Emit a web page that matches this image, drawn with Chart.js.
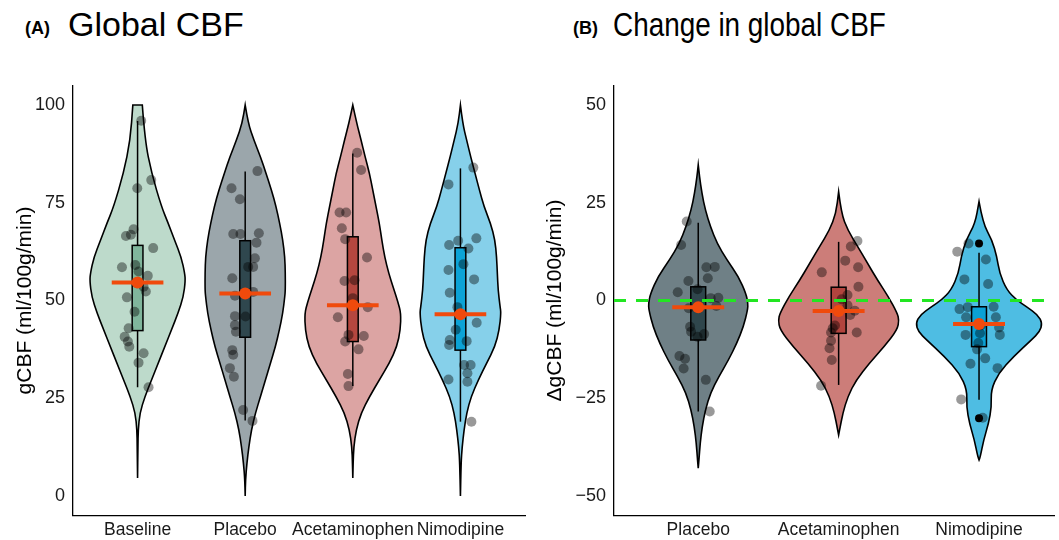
<!DOCTYPE html>
<html>
<head>
<meta charset="utf-8">
<script src="https://cdn.jsdelivr.net/npm/chart.js@4.4.1/dist/chart.umd.min.js"></script>
<style>
body { margin: 0; background: #fff; width: 1059px; height: 540px; overflow: hidden; position: relative; font-family: "Liberation Sans", Arial, sans-serif; }
canvas { position: absolute; top: 0; }
#chartA { left: 0; }
#chartB { left: 530px; }
.tag { position: absolute; font-weight: bold; font-size: 18px; line-height: 1; }
.ttl { position: absolute; font-size: 34px; line-height: 1; white-space: nowrap; }
</style>
</head>
<body>
<div class="tag" style="left:25px;top:19px">(A)</div>
<div class="ttl" style="left:68px;top:7px">Global CBF</div>
<div class="tag" style="left:573px;top:19px">(B)</div>
<div class="ttl" style="left:613px;top:7px;transform:scaleX(0.82);transform-origin:0 0">Change in global CBF</div>
<canvas id="chartA" width="530" height="540"></canvas>
<canvas id="chartB" width="529" height="540"></canvas>
<script>
// 類別與刻度
const catsA = ['Baseline', 'Placebo', 'Acetaminophen', 'Nimodipine'];
const catsB = ['Placebo', 'Acetaminophen', 'Nimodipine'];
const yTicksA = [0, 25, 50, 75, 100];
const yTicksB = [-50, -25, 0, 25, 50];

// 小提琴輪廓 [數值, 半寬(類別單位)]
const violinBaseA = [[100,.044],[91,.068],[82.6,.13],[74,.222],[69.8,.284],[65.5,.343],[61,.407],[57,.438],[55,.444],[51,.426],[46.8,.377],[42.5,.315],[38.2,.253],[34,.192],[29.7,.13],[25.4,.068],[21.2,.021],[16.9,.006],[12.5,.003],[4.6,0]];
const violinPlacA = [[100,0],[95.3,.028],[91,.081],[86.8,.142],[82.5,.194],[78.3,.244],[74,.287],[69.7,.321],[65.5,.349],[61.2,.368],[57,.373],[52.7,.373],[51,.368],[46.7,.349],[42.5,.318],[38.2,.281],[33.9,.234],[29.7,.188],[25.4,.142],[21.2,.095],[16.9,.058],[12.6,.034],[8.4,.016],[4.1,.003],[0,0]];
const violinAcetA = [[100,0],[95.3,.037],[91,.077],[86.8,.114],[82.5,.155],[78.3,.185],[74,.216],[69.7,.247],[65.5,.269],[61.2,.296],[57,.333],[53,.38],[49.5,.42],[46.8,.447],[42.5,.442],[38.2,.41],[34,.34],[29.7,.247],[25.4,.155],[21.2,.077],[16.9,.031],[12.6,.009],[8.4,.003],[4.6,0]];
const violinNimoA = [[100,0],[95.3,.021],[91,.058],[86.8,.095],[82.5,.136],[78.3,.176],[74,.219],[69.7,.281],[65.5,.321],[61.2,.336],[57,.343],[52.7,.35],[48.5,.368],[46.8,.377],[42.5,.361],[38.2,.321],[34,.244],[29.7,.167],[25.4,.099],[21.2,.058],[16.9,.034],[12.6,.016],[8.4,.006],[0,0]];
const violinPlacB = [[34.7,0],[31.7,.009],[27.4,.026],[23.1,.051],[18.9,.087],[14.6,.134],[10.4,.204],[6.1,.287],[1.8,.34],[-0.7,.354],[-2.4,.352],[-6.7,.322],[-10.9,.275],[-15.2,.216],[-19.5,.146],[-23.7,.087],[-28,.051],[-32.3,.028],[-36.5,.014],[-40.8,.005],[-42.9,0]];
const violinAcetB = [[27.8,0],[22.3,.019],[18,.065],[13.8,.136],[9.5,.206],[5.2,.277],[1,.354],[-3.3,.418],[-5,.43],[-7.5,.418],[-11.8,.324],[-16.1,.218],[-20.3,.125],[-24.6,.065],[-28.8,.03],[-33.1,.007],[-34.4,0]];
const violinNimoB = [[25.3,0],[19.7,.028],[15.5,.092],[11.2,.127],[7,.146],[2.7,.197],[0.1,.268],[-1.6,.338],[-3.7,.42],[-5.8,.451],[-8,.432],[-10.1,.373],[-14.4,.244],[-18.6,.139],[-22.9,.085],[-27.2,.089],[-31.4,.068],[-35.7,.033],[-40,.009],[-40.8,0]];

// 個別受試者 [數值, 水平抖動]
const ptsBaseA = [[96,.034],[80.8,.127],[78.7,-.003],[68.2,-.037],[66.5,-.108],[66.8,-.062],[63.4,.145],[58.5,-.145],[59.1,-.021],[57.4,.009],[56.3,.095],[54.4,-.006],[53.5,.056],[52.3,.077],[50.8,-.099],[47.1,-.028],[42.9,-.083],[40.7,-.12],[39.5,-.09],[38.2,-.077],[36.5,.056],[34.1,.009],[27.8,.102]];
const ptsPlacA = [[83.1,.114],[78.7,-.127],[75.9,-.049],[67,-.111],[67,-.044],[67.2,.127],[64.8,.105],[60.8,.09],[58.6,.074],[58.6,.028],[55.7,-.12],[51.2,-.095],[52.2,.074],[46,-.095],[45.9,.003],[43.7,-.095],[42,-.086],[37.3,-.12],[36.1,-.111],[32.7,-.142],[30.5,-.105],[22,-.019],[19.2,.068]];
const ptsAcetA = [[87.8,.04],[83.4,.077],[72.5,-.123],[72.5,-.062],[68.5,-.102],[65.7,-.071],[61,.132],[55,-.077],[55.2,.016],[50.6,0],[48.3,.139],[45.7,-.139],[41.2,-.04],[40.9,.102],[39.5,-.071],[37.5,.053],[31.2,-.046],[28.1,-.04]];
const ptsNimoA = [[84,.12],[79.7,-.111],[65.3,-.021],[65.9,.148],[64.2,-.105],[63.3,.074],[59.3,.028],[57.8,-.111],[55.4,.127],[52,-.099],[48.3,-.028],[44.3,.151],[42.5,-.044],[39.9,-.099],[38.6,-.105],[39.6,.058],[33.5,.034],[33.5,.095],[31.4,.065],[29.2,.065],[29.8,-.111],[19,.102]];
const ptsPlacB = [[20.2,-.082],[14.2,-.122],[8.5,.058],[8.6,.118],[5.7,.068],[5,-.07],[2.1,-.146],[2.9,-.005],[0.6,.089],[0.7,.143],[-1.4,.129],[-2,-.068],[-6.7,-.058],[-8,-.051],[-8.6,.042],[-9.3,-.005],[-14.2,-.134],[-14.9,-.094],[-17.4,-.104],[-20.3,.054],[-28.4,.082]];
const ptsAcetB = [[15.2,.134],[13.8,.087],[10.2,.047],[8.5,.139],[7.2,-.12],[3.5,.141],[1.4,.063],[0.3,.021],[-1.2,.063],[-2.6,.115],[-3.7,.082],[-6.4,-.026],[-7.1,-.042],[-8.2,-.054],[-8.2,.129],[-10.3,-.054],[-12.2,-.065],[-15.2,-.049],[-21.8,-.125]];
const ptsNimoB = [[14.6,-.075],[12.5,-.155],[10.5,.049],[5.4,-.104],[4.2,.065],[-2.2,-.139],[-1.7,-.08],[-1.6,.104],[-4.3,.12],[-4.3,-.092],[-6.3,.014],[-6.9,.143],[-8.8,-.096],[-8.4,.007],[-8.8,.148],[-10.9,-.005],[-12.5,-.014],[-14.8,.044],[-16.2,-.061],[-17.3,.132],[-25.3,-.127],[-30,.026]];
const outliersB = [[3, 14.6], [3, -30.1]];

// 箱形圖與平均值
const q1A = [42.3, 40.6, 39.5, 37.3], q3A = [64.1, 65.3, 66.3, 63.5];
const loA = [27.8, 19.3, 28.1, 19.0], hiA = [95.9, 83.0, 87.6, 83.8];
const meanA = [54.6, 51.8, 48.8, 46.5];
const q1B = [-10.1, -8.4, -11.8], q3B = [3.5, 3.4, -1.6];
const loB = [-28.4, -21.6, -25.4], hiB = [19.9, 15.0, 12.2];
const meanB = [-1.7, -2.7, -6.0];

const FONT = '"Liberation Sans", Arial, sans-serif';

function smooth(ctx, pts) {
    ctx.lineTo(pts[0][0], pts[0][1]);
    for (let i = 1; i < pts.length - 1; i++) {
        const mx = (pts[i][0] + pts[i + 1][0]) / 2, my = (pts[i][1] + pts[i + 1][1]) / 2;
        ctx.quadraticCurveTo(pts[i][0], pts[i][1], mx, my);
    }
    const l = pts[pts.length - 1];
    ctx.lineTo(l[0], l[1]);
}

const violinPlugin = {
    id: 'violins',
    beforeDatasetsDraw(chart, args, o) {
        const { ctx, scales: { x, y } } = chart;
        ctx.save();
        o.violins.forEach((v, i) => {
            const c = i + 1;
            const right = v.map(([val, w]) => [x.getPixelForValue(c + w), y.getPixelForValue(val)]);
            const left = v.map(([val, w]) => [x.getPixelForValue(c - w), y.getPixelForValue(val)]).reverse();
            ctx.beginPath();
            ctx.moveTo(left[left.length - 1][0], left[left.length - 1][1]);
            smooth(ctx, right);
            smooth(ctx, left);
            ctx.closePath();
            ctx.fillStyle = o.violinCol[i];
            ctx.fill();
            ctx.lineWidth = 1.6;
            ctx.strokeStyle = '#000';
            ctx.stroke();
        });
        // 箱形圖
        o.q1.forEach((q1, i) => {
            const c = i + 1;
            const px = x.getPixelForValue(c);
            ctx.beginPath();
            ctx.moveTo(px, y.getPixelForValue(o.hi[i]));
            ctx.lineTo(px, y.getPixelForValue(o.lo[i]));
            ctx.lineWidth = 1.5;
            ctx.strokeStyle = '#000';
            ctx.stroke();
            const x0 = x.getPixelForValue(c - o.boxW), x1 = x.getPixelForValue(c + o.boxW);
            const y0 = y.getPixelForValue(o.q3[i]), y1 = y.getPixelForValue(q1);
            ctx.fillStyle = o.boxCol[i];
            ctx.fillRect(x0, y0, x1 - x0, y1 - y0);
            ctx.strokeRect(x0, y0, x1 - x0, y1 - y0);
        });
        ctx.restore();
    },
    afterDatasetsDraw(chart, args, o) {
        const { ctx, chartArea, scales: { x, y } } = chart;
        ctx.save();
        if (o.hline !== null) {
            const py = y.getPixelForValue(o.hline);
            ctx.beginPath();
            ctx.setLineDash([12, 10]);
            ctx.moveTo(chartArea.left, py);
            ctx.lineTo(chartArea.right, py);
            ctx.strokeStyle = '#22e622';
            ctx.lineWidth = 3;
            ctx.stroke();
            ctx.setLineDash([]);
        }
        o.mean.forEach((m, i) => {
            const c = i + 1;
            const py = y.getPixelForValue(m);
            ctx.beginPath();
            ctx.moveTo(x.getPixelForValue(c - o.meanW), py);
            ctx.lineTo(x.getPixelForValue(c + o.meanW), py);
            ctx.strokeStyle = '#f04a0c';
            ctx.lineWidth = 4;
            ctx.stroke();
            ctx.beginPath();
            ctx.arc(x.getPixelForValue(c), py, 6, 0, Math.PI * 2);
            ctx.fillStyle = '#f04a0c';
            ctx.fill();
        });
        ctx.restore();
    }
};

function makeChart(id, cfg) {
    const datasets = cfg.pts.map((p, i) => ({
        data: p.map(([v, j]) => ({ x: i + 1 + j, y: v })),
        pointRadius: 5,
        pointBackgroundColor: 'rgba(0,0,0,0.4)',
        pointBorderWidth: 0,
        order: 2
    }));
    if (cfg.outliers) {
        datasets.push({
            data: cfg.outliers.map(([c, v]) => ({ x: c, y: v })),
            pointRadius: 4,
            pointBackgroundColor: '#000',
            pointBorderWidth: 0,
            order: 0
        });
    }
    return new Chart(document.getElementById(id), {
        type: 'scatter',
        data: { datasets: datasets },
        plugins: [violinPlugin],
        options: {
            responsive: false,
            animation: false,
            devicePixelRatio: 1,
            layout: { padding: { top: 85.5, right: cfg.padRight, left: 0, bottom: 0 } },
            plugins: {
                legend: { display: false },
                tooltip: { enabled: false },
                violins: cfg.plugin
            },
            scales: {
                x: {
                    type: 'linear',
                    min: 0.4,
                    max: cfg.xMax,
                    afterBuildTicks: s => { s.ticks = cfg.cats.map((c, i) => ({ value: i + 1 })); },
                    afterFit: s => { s.height = 24.5; },
                    grid: { display: false, drawTicks: false },
                    border: { display: true, color: '#000', width: 1.3 },
                    ticks: {
                        autoSkip: false, maxRotation: 0, minRotation: 0, padding: 4,
                        color: '#1a1a1a', font: { family: FONT, size: 17.5 },
                        callback: v => cfg.cats[v - 1]
                    }
                },
                y: {
                    min: cfg.yMin,
                    max: cfg.yMax,
                    afterBuildTicks: s => { s.ticks = cfg.yTicks.map(v => ({ value: v })); },
                    afterFit: s => { s.width = cfg.yWidth; },
                    grid: { display: false, drawTicks: false },
                    border: { display: true, color: '#000', width: 1.3 },
                    ticks: {
                        padding: 8, color: '#1a1a1a', font: { family: FONT, size: 18 },
                        callback: v => String(v).replace('-', '\u2212')
                    },
                    title: {
                        display: true, text: cfg.yTitle, color: '#000',
                        font: { family: FONT, size: 21 },
                        padding: { top: 12.4, bottom: 0 }
                    }
                }
            }
        }
    });
}

makeChart('chartA', {
    cats: catsA, yTicks: yTicksA, yMin: -5, yMax: 105, xMax: 4.6, yWidth: 73, padRight: 2,
    yTitle: 'gCBF (ml/100g/min)',
    pts: [ptsBaseA, ptsPlacA, ptsAcetA, ptsNimoA],
    plugin: {
        violins: [violinBaseA, violinPlacA, violinAcetA, violinNimoA],
        violinCol: ['#bddacb', '#9ba6ab', '#dca4a3', '#86d0ea'],
        boxCol: ['#80b69c', '#2f474e', '#b5473f', '#0ca3d6'],
        q1: q1A, q3: q3A, lo: loA, hi: hiA, mean: meanA,
        boxW: 0.05, meanW: 0.24, hline: null
    }
});

makeChart('chartB', {
    cats: catsB, yTicks: yTicksB, yMin: -55, yMax: 55, xMax: 3.534, yWidth: 84, padRight: 0,
    yTitle: '\u0394gCBF (ml/100g/min)',
    pts: [ptsPlacB, ptsAcetB, ptsNimoB],
    outliers: outliersB,
    plugin: {
        violins: [violinPlacB, violinAcetB, violinNimoB],
        violinCol: ['#6f8086', '#cc7d79', '#4ebde3'],
        boxCol: ['#2f464c', '#b2443e', '#0aa1d5'],
        q1: q1B, q3: q3B, lo: loB, hi: hiB, mean: meanB,
        boxW: 0.053, meanW: 0.185, hline: 0
    }
});
</script>
</body>
</html>
